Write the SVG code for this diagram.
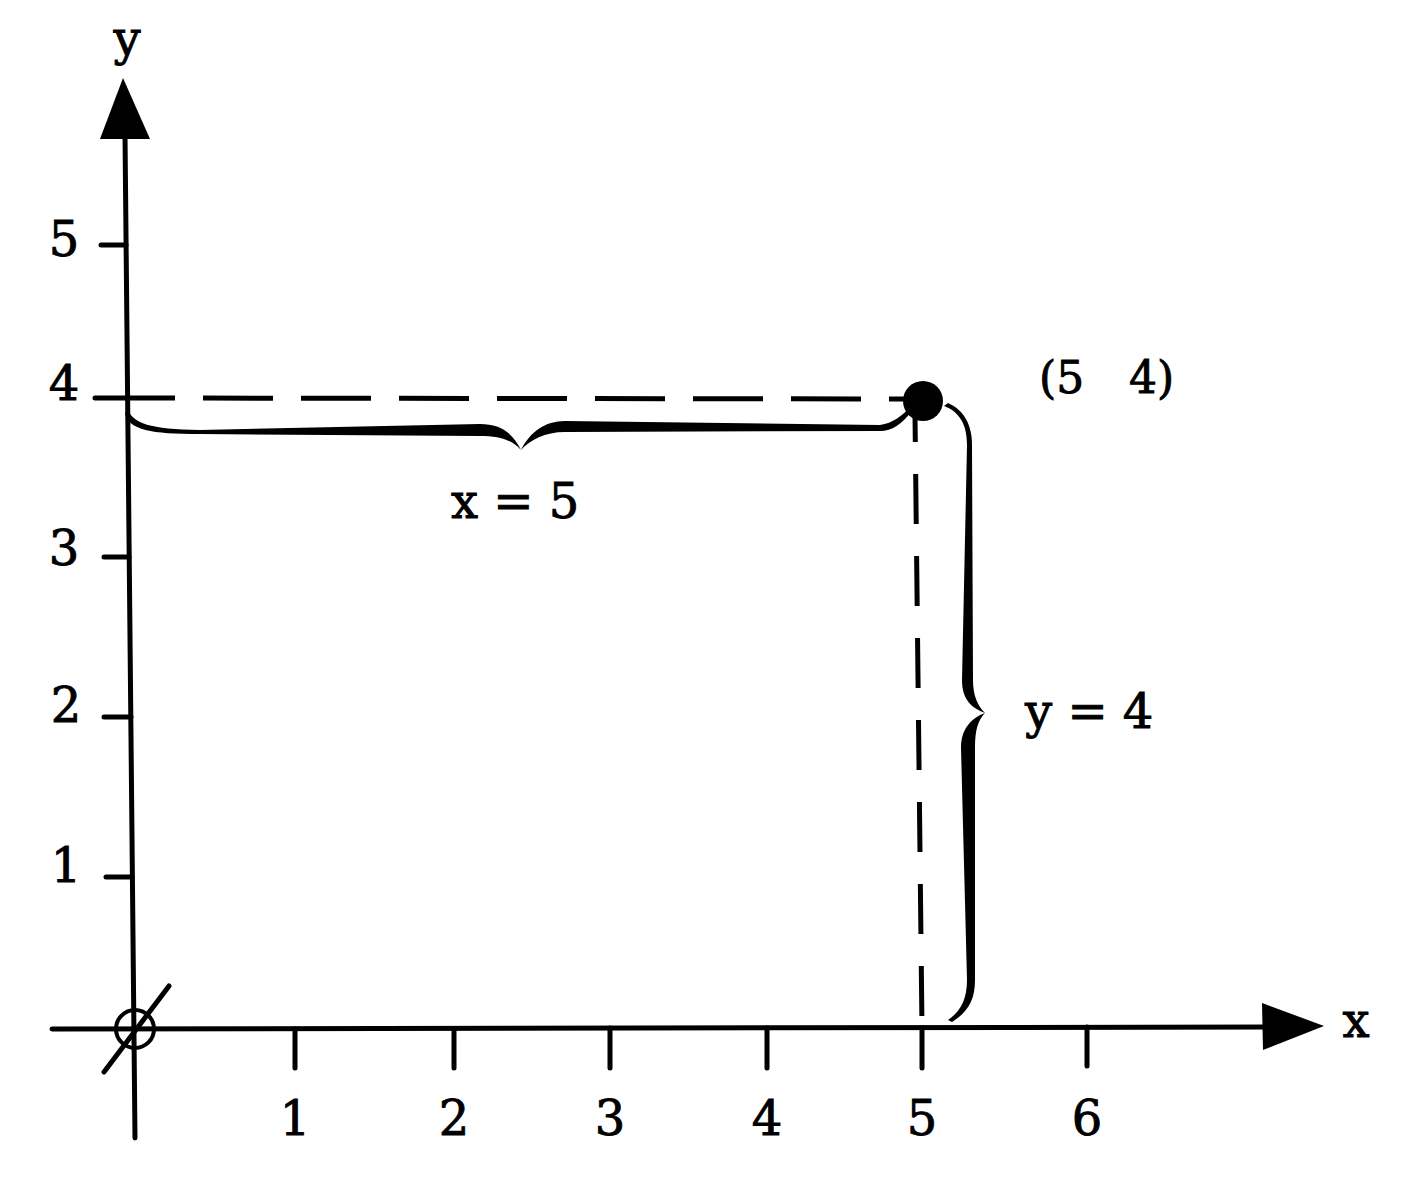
<svg xmlns="http://www.w3.org/2000/svg" width="1409" height="1189" viewBox="0 0 1409 1189">
<style>
.ln{stroke:#000;stroke-width:5;fill:none;stroke-linecap:round}
.tk{stroke:#000;stroke-width:5;fill:none;stroke-linecap:round}
.dash{stroke:#000;stroke-width:5;fill:none}
.t{font-family:"DejaVu Serif","Liberation Serif",serif;font-size:48px;fill:#000;stroke:#000;stroke-width:0.9}
.tc{text-anchor:middle}
</style>
<rect width="1409" height="1189" fill="#fff"/>
<g id="connectors">
  <g id="y-axis">
    <line class="ln" x1="125" y1="135" x2="135" y2="1138"/>
    <polygon points="123,78 100,139 150,139" fill="#000"/>
  </g>
  <g id="x-axis">
    <line class="ln" x1="52" y1="1029" x2="1270" y2="1027"/>
    <polygon points="1324,1026 1262,1003 1263,1050" fill="#000"/>
  </g>
  <g id="guides">
    <line class="dash" x1="126" y1="398" x2="905" y2="399" stroke-dasharray="70 28" stroke-dashoffset="21"/>
    <line class="dash" x1="915" y1="415" x2="922" y2="1028" stroke-dasharray="50 32" stroke-dashoffset="23"/>
  </g>
</g>
<g id="x-ticks">
  <line class="tk" x1="295" y1="1029" x2="295" y2="1068"/>
  <line class="tk" x1="454" y1="1029" x2="454" y2="1068"/>
  <line class="tk" x1="610" y1="1028" x2="610" y2="1068"/>
  <line class="tk" x1="767" y1="1028" x2="767" y2="1068"/>
  <line class="tk" x1="922" y1="1028" x2="922" y2="1068"/>
  <line class="tk" x1="1087" y1="1027" x2="1087" y2="1066"/>
</g>
<g id="y-ticks">
  <line class="tk" x1="101" y1="245" x2="126" y2="245"/>
  <line class="tk" x1="95" y1="398" x2="128" y2="398"/>
  <line class="tk" x1="104" y1="557" x2="129" y2="557"/>
  <line class="tk" x1="104" y1="717" x2="131" y2="717"/>
  <line class="tk" x1="106" y1="877" x2="132" y2="877"/>
</g>
<g id="origin">
  <circle cx="135" cy="1029" r="19" fill="none" stroke="#000" stroke-width="4"/>
  <line class="ln" x1="104" y1="1072" x2="169" y2="986"/>
</g>
<g id="point">
  <circle cx="923" cy="401" r="20" fill="#000"/>
</g>
<g id="brace-x">
  <path d="M127,408 C133,424 150,429 200,430 L480,424 C500,424 512,432 521,450 C530,432 545,421 565,421 L880,425 C893,423 902,416 909,408 L911,412 C902,424 892,431 880,431 L565,432 C545,432 530,440 521,450 C512,440 500,436 480,436 L200,434 C150,434 130,430 125,414 Z" fill="#000"/>
</g>
<g id="brace-y">
  <path d="M944,406 C960,412 967,425 967,445 L962,680 C962,700 972,708 985,713 C972,718 961,728 961,748 L967,980 C967,1000 960,1012 948,1020 L952,1022 C968,1012 975,1000 975,980 L975,748 C975,730 978,720 985,713 C978,706 973,696 973,680 L972,445 C972,425 964,410 948,403 Z" fill="#000"/>
</g>
<g id="labels">
  <text class="t tc" x="127" y="55">y</text>
  <text class="t tc" x="1356" y="1037">x</text>
  <text class="t tc" x="295" y="1135">1</text>
  <text class="t tc" x="454" y="1135">2</text>
  <text class="t tc" x="610" y="1135">3</text>
  <text class="t tc" x="767" y="1135">4</text>
  <text class="t tc" x="922" y="1135">5</text>
  <text class="t tc" x="1087" y="1135">6</text>
  <text class="t tc" x="64" y="256">5</text>
  <text class="t tc" x="64" y="400">4</text>
  <text class="t tc" x="64" y="565">3</text>
  <text class="t tc" x="66" y="722">2</text>
  <text class="t tc" x="66" y="882">1</text>
  <text class="t" x="451" y="518">x = 5</text>
  <text class="t" x="1025" y="728">y = 4</text>
  <text class="t" style="font-size:44px" y="393"><tspan x="1039">(5</tspan><tspan x="1129">4)</tspan></text>
</g>
</svg>
